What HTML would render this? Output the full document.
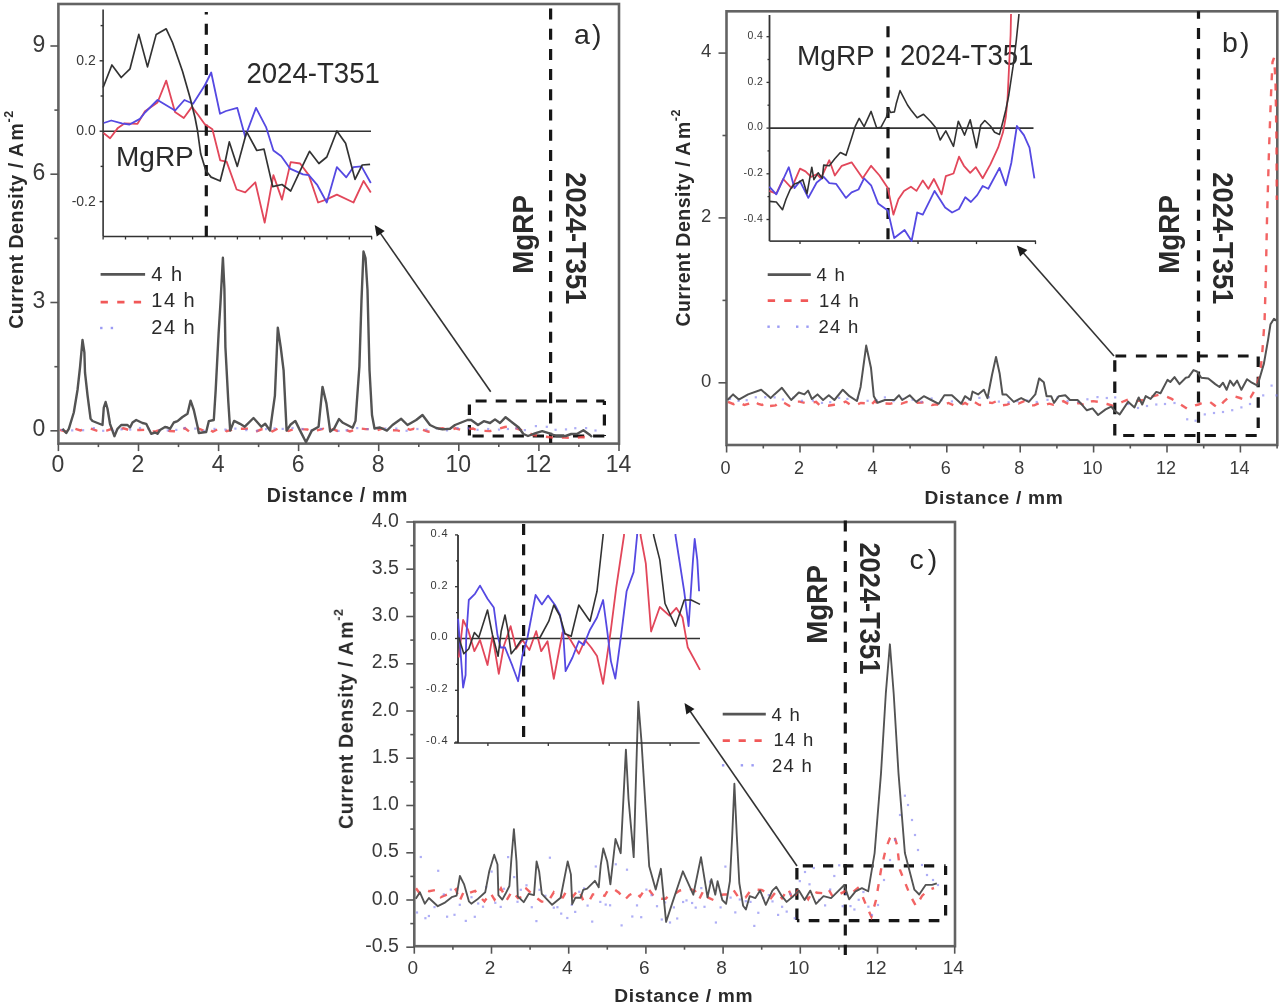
<!DOCTYPE html>
<html><head><meta charset="utf-8"><title>Figure</title>
<style>html,body{margin:0;padding:0;background:#fff;overflow:hidden;}svg{display:block;}</style>
</head><body>
<svg width="1280" height="1004" viewBox="0 0 1280 1004" font-family='"Liberation Sans", sans-serif'>
<rect width="1280" height="1004" fill="#ffffff"/>
<defs><filter id="bl" x="0" y="0" width="1280" height="1004" filterUnits="userSpaceOnUse"><feGaussianBlur stdDeviation="0.7"/></filter></defs>
<g filter="url(#bl)">
<rect x="58.4" y="4.0" width="560.6" height="439.6" fill="none" stroke="#646464" stroke-width="2.6"/>
<line x1="50.4" y1="430.8" x2="58.4" y2="430.8" stroke="#555555" stroke-width="1.6" />
<text x="45.3" y="436.4" font-size="23" text-anchor="end" font-weight="normal" fill="#3a3a3a" >0</text>
<line x1="50.4" y1="302.5" x2="58.4" y2="302.5" stroke="#555555" stroke-width="1.6" />
<text x="45.3" y="308.1" font-size="23" text-anchor="end" font-weight="normal" fill="#3a3a3a" >3</text>
<line x1="50.4" y1="174.2" x2="58.4" y2="174.2" stroke="#555555" stroke-width="1.6" />
<text x="45.3" y="179.8" font-size="23" text-anchor="end" font-weight="normal" fill="#3a3a3a" >6</text>
<line x1="50.4" y1="46.0" x2="58.4" y2="46.0" stroke="#555555" stroke-width="1.6" />
<text x="45.3" y="51.6" font-size="23" text-anchor="end" font-weight="normal" fill="#3a3a3a" >9</text>
<line x1="54.4" y1="366.7" x2="58.4" y2="366.7" stroke="#555555" stroke-width="1.6" />
<line x1="54.4" y1="238.4" x2="58.4" y2="238.4" stroke="#555555" stroke-width="1.6" />
<line x1="54.4" y1="110.1" x2="58.4" y2="110.1" stroke="#555555" stroke-width="1.6" />
<line x1="58.4" y1="443.6" x2="58.4" y2="451.1" stroke="#555555" stroke-width="1.6" />
<text x="57.9" y="472.3" font-size="23" text-anchor="middle" font-weight="normal" fill="#3a3a3a" >0</text>
<line x1="98.4" y1="443.6" x2="98.4" y2="447.1" stroke="#555555" stroke-width="1.6" />
<line x1="138.5" y1="443.6" x2="138.5" y2="451.1" stroke="#555555" stroke-width="1.6" />
<text x="138.0" y="472.3" font-size="23" text-anchor="middle" font-weight="normal" fill="#3a3a3a" >2</text>
<line x1="178.5" y1="443.6" x2="178.5" y2="447.1" stroke="#555555" stroke-width="1.6" />
<line x1="218.6" y1="443.6" x2="218.6" y2="451.1" stroke="#555555" stroke-width="1.6" />
<text x="218.1" y="472.3" font-size="23" text-anchor="middle" font-weight="normal" fill="#3a3a3a" >4</text>
<line x1="258.6" y1="443.6" x2="258.6" y2="447.1" stroke="#555555" stroke-width="1.6" />
<line x1="298.6" y1="443.6" x2="298.6" y2="451.1" stroke="#555555" stroke-width="1.6" />
<text x="298.1" y="472.3" font-size="23" text-anchor="middle" font-weight="normal" fill="#3a3a3a" >6</text>
<line x1="338.7" y1="443.6" x2="338.7" y2="447.1" stroke="#555555" stroke-width="1.6" />
<line x1="378.7" y1="443.6" x2="378.7" y2="451.1" stroke="#555555" stroke-width="1.6" />
<text x="378.2" y="472.3" font-size="23" text-anchor="middle" font-weight="normal" fill="#3a3a3a" >8</text>
<line x1="418.8" y1="443.6" x2="418.8" y2="447.1" stroke="#555555" stroke-width="1.6" />
<line x1="458.8" y1="443.6" x2="458.8" y2="451.1" stroke="#555555" stroke-width="1.6" />
<text x="458.3" y="472.3" font-size="23" text-anchor="middle" font-weight="normal" fill="#3a3a3a" >10</text>
<line x1="498.8" y1="443.6" x2="498.8" y2="447.1" stroke="#555555" stroke-width="1.6" />
<line x1="538.9" y1="443.6" x2="538.9" y2="451.1" stroke="#555555" stroke-width="1.6" />
<text x="538.4" y="472.3" font-size="23" text-anchor="middle" font-weight="normal" fill="#3a3a3a" >12</text>
<line x1="578.9" y1="443.6" x2="578.9" y2="447.1" stroke="#555555" stroke-width="1.6" />
<line x1="619.0" y1="443.6" x2="619.0" y2="451.1" stroke="#555555" stroke-width="1.6" />
<text x="618.5" y="472.3" font-size="23" text-anchor="middle" font-weight="normal" fill="#3a3a3a" >14</text>
<text transform="translate(23.0,328.8) rotate(-90)" font-size="19.5" font-weight="bold" fill="#2a2a2a" text-anchor="start" letter-spacing="0.55">Current Density / A<tspan dx="2">m</tspan><tspan dy="-10" font-size="12.5">-2</tspan></text>
<text x="337.5" y="502.0" font-size="19.5" text-anchor="middle" font-weight="bold" fill="#2a2a2a" letter-spacing="0.7">Distance / mm</text>
<text x="574.0" y="44.0" font-size="28.5" text-anchor="start" font-weight="normal" fill="#2a2a2a" letter-spacing="2.2">a)</text>
<line x1="550.6" y1="8.5" x2="550.6" y2="443.0" stroke="#151515" stroke-width="3.2" stroke-dasharray="11 9.2" stroke-dashoffset="0"/>
<text transform="translate(533.4,273.8) rotate(-90) scale(1,1.050)" font-size="27.8" font-weight="bold" fill="#2a2a2a" text-anchor="start" >MgRP</text>
<text transform="translate(565.6,172.3) rotate(90) scale(1,1.100)" font-size="27.3" font-weight="bold" fill="#2a2a2a" text-anchor="start" >2024-T351</text>
<line x1="469.4" y1="401.0" x2="604.4" y2="401.0" stroke="#151515" stroke-width="3.2" stroke-dasharray="11.00 9.10" stroke-dashoffset="13.90"/>
<line x1="469.4" y1="401.0" x2="469.4" y2="436.0" stroke="#151515" stroke-width="3.2" stroke-dasharray="10.60 10.00" stroke-dashoffset="17.20"/>
<line x1="469.4" y1="436.0" x2="604.4" y2="436.0" stroke="#151515" stroke-width="3.2" stroke-dasharray="11.20 8.90" stroke-dashoffset="17.00"/>
<line x1="604.4" y1="401.0" x2="604.4" y2="436.0" stroke="#151515" stroke-width="3.2" stroke-dasharray="11.20 9.40" stroke-dashoffset="7.20"/>
<line x1="490.7" y1="391.8" x2="379.6" y2="232.1" stroke="#333" stroke-width="1.6" />
<polygon points="374.7,225.1 384.7,230.9 376.7,236.5" fill="#1a1a1a"/>
<line x1="100.6" y1="274.3" x2="145.1" y2="274.3" stroke="#555555" stroke-width="2.8" />
<line x1="100.6" y1="302.1" x2="145" y2="302.1" stroke="#f04848" stroke-width="2.6" stroke-dasharray="7.3 9.3" opacity="0.9"/>
<rect x="100.1" y="326.8" width="2.4" height="2.4" fill="#7070f0" opacity="0.7"/>
<rect x="110.7" y="326.8" width="2.4" height="2.4" fill="#7070f0" opacity="0.7"/>
<text x="151.3" y="281.0" font-size="20" text-anchor="start" font-weight="normal" fill="#2a2a2a" letter-spacing="1.5">4 h</text>
<text x="151.3" y="307.0" font-size="20" text-anchor="start" font-weight="normal" fill="#2a2a2a" letter-spacing="1.5">14 h</text>
<text x="151.3" y="334.0" font-size="20" text-anchor="start" font-weight="normal" fill="#2a2a2a" letter-spacing="1.5">24 h</text>
<polyline points="60.0,429.8 65.2,431.5 70.1,430.0 75.3,428.9 80.4,430.5 86.3,428.5 90.7,428.5 96.6,430.7 100.2,431.7 106.6,430.6 112.0,428.8 115.5,430.1 119.2,428.9 123.4,428.3 128.3,429.8 134.3,430.1 139.7,430.0 145.2,429.8 149.6,431.8 156.1,431.2 161.7,429.3 165.9,429.2 169.6,431.0 174.3,431.2 178.9,431.6 185.0,428.2 189.1,431.5 194.0,431.7 198.7,428.5 204.1,431.0 208.4,428.5 212.9,431.7 218.7,428.6 222.9,428.6 226.6,431.1 230.6,430.2 235.5,428.9 241.2,428.7 246.6,428.6 251.4,429.0 255.7,431.7 261.6,429.3 267.7,429.0 272.4,431.3 277.8,428.6 284.3,429.0 288.6,431.0 293.1,429.3 296.8,428.5 302.0,429.1 307.4,429.5 312.2,431.7 317.2,430.3 323.3,428.9 327.2,431.5 333.2,429.1 337.2,430.9 343.6,428.9 349.9,431.4 355.2,429.7 359.0,428.3 365.4,429.1 371.0,429.1 377.0,430.3 381.4,428.8 387.1,428.4 391.2,430.2 397.3,430.4 401.6,431.5 405.8,428.3 410.1,429.8 413.7,428.8 418.3,430.3 422.2,429.5 428.4,431.7 433.9,430.7 439.1,428.7 442.7,428.3 449.0,430.7 455.4,428.3 460.8,429.9 466.5,429.3 473.0,428.5 478.1,430.9 484.3,430.9 489.9,431.1 496.2,429.5 505.0,427.0 510.0,426.0 515.0,428.0 521.0,430.0 527.0,432.0 533.0,435.0 540.0,436.0 548.0,437.0 556.0,438.0 565.0,437.5 575.0,438.0 583.0,437.0 590.0,439.0" fill="none" stroke="#f04848" stroke-width="2.4" stroke-dasharray="7 9" opacity="0.85"/>
<rect x="60.9" y="428.8" width="2.2" height="2.2" fill="#7878f0" opacity="0.6"/>
<rect x="71.1" y="429.3" width="2.2" height="2.2" fill="#7878f0" opacity="0.6"/>
<rect x="82.0" y="429.1" width="2.2" height="2.2" fill="#7878f0" opacity="0.6"/>
<rect x="92.7" y="427.0" width="2.2" height="2.2" fill="#7878f0" opacity="0.6"/>
<rect x="102.1" y="429.7" width="2.2" height="2.2" fill="#7878f0" opacity="0.6"/>
<rect x="112.1" y="429.6" width="2.2" height="2.2" fill="#7878f0" opacity="0.6"/>
<rect x="120.4" y="428.3" width="2.2" height="2.2" fill="#7878f0" opacity="0.6"/>
<rect x="129.1" y="428.5" width="2.2" height="2.2" fill="#7878f0" opacity="0.6"/>
<rect x="138.9" y="426.9" width="2.2" height="2.2" fill="#7878f0" opacity="0.6"/>
<rect x="147.5" y="427.7" width="2.2" height="2.2" fill="#7878f0" opacity="0.6"/>
<rect x="158.3" y="429.2" width="2.2" height="2.2" fill="#7878f0" opacity="0.6"/>
<rect x="166.7" y="429.3" width="2.2" height="2.2" fill="#7878f0" opacity="0.6"/>
<rect x="175.2" y="428.8" width="2.2" height="2.2" fill="#7878f0" opacity="0.6"/>
<rect x="183.5" y="426.9" width="2.2" height="2.2" fill="#7878f0" opacity="0.6"/>
<rect x="194.2" y="427.5" width="2.2" height="2.2" fill="#7878f0" opacity="0.6"/>
<rect x="202.8" y="429.8" width="2.2" height="2.2" fill="#7878f0" opacity="0.6"/>
<rect x="213.4" y="427.8" width="2.2" height="2.2" fill="#7878f0" opacity="0.6"/>
<rect x="224.3" y="428.5" width="2.2" height="2.2" fill="#7878f0" opacity="0.6"/>
<rect x="234.3" y="427.5" width="2.2" height="2.2" fill="#7878f0" opacity="0.6"/>
<rect x="245.2" y="429.0" width="2.2" height="2.2" fill="#7878f0" opacity="0.6"/>
<rect x="256.1" y="429.6" width="2.2" height="2.2" fill="#7878f0" opacity="0.6"/>
<rect x="265.0" y="428.0" width="2.2" height="2.2" fill="#7878f0" opacity="0.6"/>
<rect x="273.5" y="427.3" width="2.2" height="2.2" fill="#7878f0" opacity="0.6"/>
<rect x="281.6" y="427.8" width="2.2" height="2.2" fill="#7878f0" opacity="0.6"/>
<rect x="291.5" y="426.9" width="2.2" height="2.2" fill="#7878f0" opacity="0.6"/>
<rect x="301.5" y="427.9" width="2.2" height="2.2" fill="#7878f0" opacity="0.6"/>
<rect x="310.4" y="429.4" width="2.2" height="2.2" fill="#7878f0" opacity="0.6"/>
<rect x="319.9" y="427.8" width="2.2" height="2.2" fill="#7878f0" opacity="0.6"/>
<rect x="329.3" y="429.0" width="2.2" height="2.2" fill="#7878f0" opacity="0.6"/>
<rect x="337.5" y="429.8" width="2.2" height="2.2" fill="#7878f0" opacity="0.6"/>
<rect x="345.5" y="429.1" width="2.2" height="2.2" fill="#7878f0" opacity="0.6"/>
<rect x="356.1" y="427.0" width="2.2" height="2.2" fill="#7878f0" opacity="0.6"/>
<rect x="366.4" y="428.0" width="2.2" height="2.2" fill="#7878f0" opacity="0.6"/>
<rect x="376.2" y="426.9" width="2.2" height="2.2" fill="#7878f0" opacity="0.6"/>
<rect x="384.3" y="427.4" width="2.2" height="2.2" fill="#7878f0" opacity="0.6"/>
<rect x="395.2" y="427.5" width="2.2" height="2.2" fill="#7878f0" opacity="0.6"/>
<rect x="405.5" y="429.7" width="2.2" height="2.2" fill="#7878f0" opacity="0.6"/>
<rect x="416.3" y="427.9" width="2.2" height="2.2" fill="#7878f0" opacity="0.6"/>
<rect x="425.3" y="428.5" width="2.2" height="2.2" fill="#7878f0" opacity="0.6"/>
<rect x="435.7" y="427.2" width="2.2" height="2.2" fill="#7878f0" opacity="0.6"/>
<rect x="445.9" y="429.3" width="2.2" height="2.2" fill="#7878f0" opacity="0.6"/>
<rect x="456.5" y="427.0" width="2.2" height="2.2" fill="#7878f0" opacity="0.6"/>
<rect x="467.3" y="427.2" width="2.2" height="2.2" fill="#7878f0" opacity="0.6"/>
<rect x="476.4" y="428.7" width="2.2" height="2.2" fill="#7878f0" opacity="0.6"/>
<rect x="487.1" y="427.9" width="2.2" height="2.2" fill="#7878f0" opacity="0.6"/>
<rect x="497.9" y="428.5" width="2.2" height="2.2" fill="#7878f0" opacity="0.6"/>
<rect x="506.8" y="427.9" width="2.2" height="2.2" fill="#7878f0" opacity="0.6"/>
<rect x="515.3" y="427.1" width="2.2" height="2.2" fill="#7878f0" opacity="0.6"/>
<rect x="523.8" y="429.0" width="2.2" height="2.2" fill="#7878f0" opacity="0.6"/>
<rect x="534.8" y="425.0" width="2.2" height="2.2" fill="#7878f0" opacity="0.6"/>
<rect x="545.7" y="425.7" width="2.2" height="2.2" fill="#7878f0" opacity="0.6"/>
<rect x="554.5" y="428.7" width="2.2" height="2.2" fill="#7878f0" opacity="0.6"/>
<rect x="564.9" y="428.3" width="2.2" height="2.2" fill="#7878f0" opacity="0.6"/>
<rect x="574.2" y="427.1" width="2.2" height="2.2" fill="#7878f0" opacity="0.6"/>
<rect x="585.0" y="427.0" width="2.2" height="2.2" fill="#7878f0" opacity="0.6"/>
<rect x="594.4" y="429.4" width="2.2" height="2.2" fill="#7878f0" opacity="0.6"/>
<polyline points="62.5,428.8 66.2,433.0 68.8,428.8 73.8,412.5 77.5,390.0 80.0,367.5 82.5,340.0 84.4,352.5 85.0,372.5 87.5,395.0 90.6,418.8 92.5,421.0 97.5,423.0 102.5,425.0 103.8,407.5 105.6,402.0 107.5,408.8 110.0,423.8 114.4,436.2 117.5,428.8 121.2,425.0 127.5,425.0 130.0,427.5 132.5,422.5 136.2,420.0 142.5,423.0 146.2,423.8 151.2,433.8 155.0,432.5 157.5,433.8 160.0,430.0 165.0,427.0 167.5,427.5 170.0,428.8 173.8,422.5 177.5,421.2 182.5,417.0 187.5,413.8 190.6,400.6 193.8,410.0 197.5,426.2 198.8,433.0 206.2,432.0 208.8,421.2 213.8,420.0 215.7,389.8 218.6,333.5 220.5,302.4 222.9,257.8 224.4,288.8 225.4,347.0 228.3,401.5 230.2,430.6 234.1,420.9 240.0,423.8 244.8,426.7 253.5,418.0 261.3,426.7 265.2,423.8 270.0,430.6 274.9,395.6 277.8,327.7 280.7,347.0 283.6,370.4 286.6,430.6 290.4,424.8 295.3,420.9 300.1,430.6 306.0,442.2 311.8,430.6 318.6,426.7 322.5,386.9 326.4,403.4 330.2,431.6 334.1,428.6 339.0,419.0 342.9,422.8 348.7,425.7 352.6,427.7 355.5,420.9 359.4,366.5 361.5,300.0 363.5,251.5 365.5,258.0 367.5,290.0 369.5,370.0 372.0,415.0 374.5,428.5 380.0,427.5 386.9,430.6 392.5,425.0 401.2,418.8 407.5,425.0 416.2,420.0 422.5,415.0 430.0,425.0 436.2,428.0 442.5,429.4 450.0,428.8 455.0,425.0 460.0,423.0 467.5,420.0 471.2,420.0 478.0,425.0 483.8,421.2 490.0,423.0 495.0,419.4 500.0,423.0 505.6,417.2 518.7,427.5 523.4,434.0 528.0,436.0 535.6,433.1 542.2,431.2 548.7,433.1 556.2,436.0 565.6,436.0 571.2,434.0 576.8,434.0 583.4,430.3 590.0,435.0 592.0,437.0" fill="none" stroke="#525252" stroke-width="2.4" stroke-linejoin="round" />
<line x1="103.1" y1="9.4" x2="103.1" y2="236.5" stroke="#333" stroke-width="1.6" />
<line x1="103.1" y1="236.5" x2="372.0" y2="236.5" stroke="#333" stroke-width="1.6" />
<line x1="103.1" y1="131.2" x2="371.0" y2="131.2" stroke="#333" stroke-width="1.5" />
<line x1="100.6" y1="25.6" x2="103.1" y2="25.6" stroke="#333" stroke-width="1.4" />
<line x1="99.6" y1="60.8" x2="103.1" y2="60.8" stroke="#333" stroke-width="1.4" />
<line x1="100.6" y1="96.0" x2="103.1" y2="96.0" stroke="#333" stroke-width="1.4" />
<line x1="99.6" y1="131.2" x2="103.1" y2="131.2" stroke="#333" stroke-width="1.4" />
<line x1="100.6" y1="166.4" x2="103.1" y2="166.4" stroke="#333" stroke-width="1.4" />
<line x1="99.6" y1="201.6" x2="103.1" y2="201.6" stroke="#333" stroke-width="1.4" />
<text x="95.8" y="64.7" font-size="14" text-anchor="end" font-weight="normal" fill="#383838" >0.2</text>
<text x="95.8" y="135.1" font-size="14" text-anchor="end" font-weight="normal" fill="#383838" >0.0</text>
<text x="95.8" y="205.5" font-size="14" text-anchor="end" font-weight="normal" fill="#383838" >-0.2</text>
<line x1="103.1" y1="236.5" x2="103.1" y2="239.5" stroke="#333" stroke-width="1.3" />
<line x1="125.5" y1="236.5" x2="125.5" y2="239.5" stroke="#333" stroke-width="1.3" />
<line x1="147.9" y1="236.5" x2="147.9" y2="239.5" stroke="#333" stroke-width="1.3" />
<line x1="170.2" y1="236.5" x2="170.2" y2="239.5" stroke="#333" stroke-width="1.3" />
<line x1="192.6" y1="236.5" x2="192.6" y2="239.5" stroke="#333" stroke-width="1.3" />
<line x1="215.0" y1="236.5" x2="215.0" y2="239.5" stroke="#333" stroke-width="1.3" />
<line x1="237.4" y1="236.5" x2="237.4" y2="239.5" stroke="#333" stroke-width="1.3" />
<line x1="259.8" y1="236.5" x2="259.8" y2="239.5" stroke="#333" stroke-width="1.3" />
<line x1="282.1" y1="236.5" x2="282.1" y2="239.5" stroke="#333" stroke-width="1.3" />
<line x1="304.5" y1="236.5" x2="304.5" y2="239.5" stroke="#333" stroke-width="1.3" />
<line x1="326.9" y1="236.5" x2="326.9" y2="239.5" stroke="#333" stroke-width="1.3" />
<line x1="349.3" y1="236.5" x2="349.3" y2="239.5" stroke="#333" stroke-width="1.3" />
<line x1="371.7" y1="236.5" x2="371.7" y2="239.5" stroke="#333" stroke-width="1.3" />
<line x1="206.3" y1="12.0" x2="206.3" y2="236.5" stroke="#151515" stroke-width="3.2" stroke-dasharray="11 9.2" stroke-dashoffset="8.5"/>
<text transform="translate(246.4,82.6) rotate(0) scale(1,1.100)" font-size="27.6" font-weight="normal" fill="#2a2a2a" text-anchor="start" >2024-T351</text>
<text x="116.0" y="166.2" font-size="28" text-anchor="start" font-weight="normal" fill="#2a2a2a" >MgRP</text>
<polyline points="103.5,133.0 110.1,138.3 117.9,127.9 124.4,123.4 137.5,123.8 145.0,111.2 157.5,102.5 166.2,80.6 175.0,111.9 183.8,118.0 191.9,106.9 198.2,115.0 204.6,124.0 212.4,129.2 220.2,160.3 226.6,161.6 236.6,189.5 245.2,192.4 255.3,182.3 264.7,222.7 273.4,175.1 282.0,199.6 290.7,162.1 300.1,163.5 308.8,175.1 318.1,202.5 326.1,199.6 336.9,194.6 353.5,202.5 363.6,180.9 370.8,192.4" fill="none" stroke="#e2465a" stroke-width="1.8" stroke-linejoin="round" />
<polyline points="103.7,123.0 111.3,120.5 121.8,123.4 129.5,124.5 139.9,118.9 145.0,112.5 157.5,100.0 175.0,110.6 184.4,100.0 193.1,103.8 205.0,85.0 211.2,72.5 220.0,113.8 226.0,111.0 237.3,107.9 245.2,136.8 256.0,107.9 266.2,127.4 273.4,150.5 281.3,156.3 290.0,168.6 303.0,174.4 308.8,175.1 317.4,185.2 326.8,202.5 336.9,167.1 346.3,177.3 353.5,167.1 361.5,166.4 370.8,183.0" fill="none" stroke="#5448e2" stroke-width="1.8" stroke-linejoin="round" />
<polyline points="103.1,87.5 111.9,65.0 121.2,77.5 130.0,68.8 138.8,34.4 147.5,66.9 156.2,34.4 166.2,28.8 172.5,42.5 182.5,71.2 190.0,97.5 195.0,117.5 197.5,130.5 200.7,153.8 205.9,170.7 211.1,177.1 220.2,181.0 225.3,161.0 229.3,141.9 237.3,166.4 246.7,131.8 256.8,150.5 264.0,149.1 272.7,186.6 282.0,184.5 290.7,191.0 300.1,170.8 309.5,151.3 318.9,163.5 326.8,157.0 336.9,131.0 345.6,143.3 355.0,179.4 362.2,165.0 370.1,164.3" fill="none" stroke="#333" stroke-width="1.7" stroke-linejoin="round" />
<rect x="726.5" y="11.3" width="550.8" height="433.7" fill="none" stroke="#646464" stroke-width="2.6"/>
<line x1="718.5" y1="382.8" x2="726.5" y2="382.8" stroke="#555555" stroke-width="1.6" />
<text x="711.2" y="387.1" font-size="18.5" text-anchor="end" font-weight="normal" fill="#3a3a3a" >0</text>
<line x1="718.5" y1="217.9" x2="726.5" y2="217.9" stroke="#555555" stroke-width="1.6" />
<text x="711.2" y="222.2" font-size="18.5" text-anchor="end" font-weight="normal" fill="#3a3a3a" >2</text>
<line x1="718.5" y1="53.1" x2="726.5" y2="53.1" stroke="#555555" stroke-width="1.6" />
<text x="711.2" y="57.4" font-size="18.5" text-anchor="end" font-weight="normal" fill="#3a3a3a" >4</text>
<line x1="722.5" y1="300.4" x2="726.5" y2="300.4" stroke="#555555" stroke-width="1.6" />
<line x1="722.5" y1="135.5" x2="726.5" y2="135.5" stroke="#555555" stroke-width="1.6" />
<line x1="726.6" y1="445.0" x2="726.6" y2="452.5" stroke="#555555" stroke-width="1.6" />
<text x="725.6" y="474.0" font-size="18" text-anchor="middle" font-weight="normal" fill="#3a3a3a" >0</text>
<line x1="763.3" y1="445.0" x2="763.3" y2="448.5" stroke="#555555" stroke-width="1.6" />
<line x1="800.0" y1="445.0" x2="800.0" y2="452.5" stroke="#555555" stroke-width="1.6" />
<text x="799.0" y="474.0" font-size="18" text-anchor="middle" font-weight="normal" fill="#3a3a3a" >2</text>
<line x1="836.7" y1="445.0" x2="836.7" y2="448.5" stroke="#555555" stroke-width="1.6" />
<line x1="873.4" y1="445.0" x2="873.4" y2="452.5" stroke="#555555" stroke-width="1.6" />
<text x="872.4" y="474.0" font-size="18" text-anchor="middle" font-weight="normal" fill="#3a3a3a" >4</text>
<line x1="910.1" y1="445.0" x2="910.1" y2="448.5" stroke="#555555" stroke-width="1.6" />
<line x1="946.8" y1="445.0" x2="946.8" y2="452.5" stroke="#555555" stroke-width="1.6" />
<text x="945.8" y="474.0" font-size="18" text-anchor="middle" font-weight="normal" fill="#3a3a3a" >6</text>
<line x1="983.5" y1="445.0" x2="983.5" y2="448.5" stroke="#555555" stroke-width="1.6" />
<line x1="1020.2" y1="445.0" x2="1020.2" y2="452.5" stroke="#555555" stroke-width="1.6" />
<text x="1019.2" y="474.0" font-size="18" text-anchor="middle" font-weight="normal" fill="#3a3a3a" >8</text>
<line x1="1056.9" y1="445.0" x2="1056.9" y2="448.5" stroke="#555555" stroke-width="1.6" />
<line x1="1093.6" y1="445.0" x2="1093.6" y2="452.5" stroke="#555555" stroke-width="1.6" />
<text x="1092.6" y="474.0" font-size="18" text-anchor="middle" font-weight="normal" fill="#3a3a3a" >10</text>
<line x1="1130.3" y1="445.0" x2="1130.3" y2="448.5" stroke="#555555" stroke-width="1.6" />
<line x1="1167.0" y1="445.0" x2="1167.0" y2="452.5" stroke="#555555" stroke-width="1.6" />
<text x="1166.0" y="474.0" font-size="18" text-anchor="middle" font-weight="normal" fill="#3a3a3a" >12</text>
<line x1="1203.7" y1="445.0" x2="1203.7" y2="448.5" stroke="#555555" stroke-width="1.6" />
<line x1="1240.4" y1="445.0" x2="1240.4" y2="452.5" stroke="#555555" stroke-width="1.6" />
<text x="1239.4" y="474.0" font-size="18" text-anchor="middle" font-weight="normal" fill="#3a3a3a" >14</text>
<line x1="1277.1" y1="445.0" x2="1277.1" y2="448.5" stroke="#555555" stroke-width="1.6" />
<text transform="translate(690.3,326.5) rotate(-90)" font-size="19.5" font-weight="bold" fill="#2a2a2a" text-anchor="start" letter-spacing="0.5">Current Density / A<tspan dx="2">m</tspan><tspan dy="-10" font-size="12.5">-2</tspan></text>
<text x="994.0" y="504.0" font-size="19.2" text-anchor="middle" font-weight="bold" fill="#2a2a2a" letter-spacing="0.7">Distance / mm</text>
<text x="1222.0" y="51.5" font-size="28.5" text-anchor="start" font-weight="normal" fill="#2a2a2a" letter-spacing="2.2">b)</text>
<line x1="1198.5" y1="11.3" x2="1198.5" y2="445.0" stroke="#151515" stroke-width="3.2" stroke-dasharray="11 9.2" stroke-dashoffset="3.5"/>
<text transform="translate(1179.2,273.8) rotate(-90) scale(1,1.050)" font-size="27.8" font-weight="bold" fill="#2a2a2a" text-anchor="start" >MgRP</text>
<text transform="translate(1212.9,172.3) rotate(90) scale(1,1.100)" font-size="27.3" font-weight="bold" fill="#2a2a2a" text-anchor="start" >2024-T351</text>
<line x1="1114.8" y1="356.0" x2="1258.2" y2="356.0" stroke="#151515" stroke-width="3.2" stroke-dasharray="10.70 9.70" stroke-dashoffset="19.70"/>
<line x1="1114.8" y1="356.0" x2="1114.8" y2="435.5" stroke="#151515" stroke-width="3.2" stroke-dasharray="11.50 9.80" stroke-dashoffset="17.10"/>
<line x1="1114.8" y1="435.5" x2="1258.2" y2="435.5" stroke="#151515" stroke-width="3.2" stroke-dasharray="11.10 9.30" stroke-dashoffset="12.00"/>
<line x1="1258.2" y1="356.0" x2="1258.2" y2="435.5" stroke="#151515" stroke-width="3.2" stroke-dasharray="10.50 9.90" stroke-dashoffset="20.00"/>
<line x1="1114.0" y1="356.0" x2="1022.4" y2="251.8" stroke="#333" stroke-width="1.6" />
<polygon points="1016.8,245.4 1027.4,250.1 1020.1,256.5" fill="#1a1a1a"/>
<line x1="767.7" y1="274.7" x2="810.8" y2="274.7" stroke="#555555" stroke-width="2.8" />
<line x1="767.7" y1="300.6" x2="810" y2="300.6" stroke="#f04848" stroke-width="2.6" stroke-dasharray="7.4 9.1" opacity="0.9"/>
<rect x="767.4" y="325.5" width="2.4" height="2.4" fill="#7070f0" opacity="0.7"/>
<rect x="777.2" y="325.5" width="2.4" height="2.4" fill="#7070f0" opacity="0.7"/>
<rect x="796.0" y="325.5" width="2.4" height="2.4" fill="#7070f0" opacity="0.7"/>
<rect x="806.3" y="325.5" width="2.4" height="2.4" fill="#7070f0" opacity="0.7"/>
<text x="816.5" y="281.0" font-size="18.5" text-anchor="start" font-weight="normal" fill="#2a2a2a" letter-spacing="1.3">4 h</text>
<text x="819.0" y="306.7" font-size="18.5" text-anchor="start" font-weight="normal" fill="#2a2a2a" letter-spacing="1.3">14 h</text>
<text x="818.5" y="333.0" font-size="18.5" text-anchor="start" font-weight="normal" fill="#2a2a2a" letter-spacing="1.3">24 h</text>
<polyline points="728.0,401.8 733.6,404.2 738.5,402.1 744.4,405.0 749.4,403.5 753.6,401.0 758.2,403.9 762.0,405.0 766.1,402.2 769.8,406.0 775.5,405.4 780.8,401.2 785.3,403.5 789.2,405.8 793.8,401.8 799.7,401.6 806.0,403.3 811.2,402.7 816.1,401.9 819.7,405.3 823.9,404.9 828.1,405.8 834.2,404.8 840.0,403.9 845.7,401.6 850.7,405.1 854.8,405.6 860.9,403.0 865.5,403.3 870.2,406.0 874.8,401.1 878.6,404.6 885.1,403.5 890.1,403.8 895.8,402.1 901.1,403.8 906.5,401.9 910.5,402.7 916.8,402.7 922.1,402.5 925.9,401.3 931.8,404.9 936.5,404.4 942.0,405.5 948.4,403.0 954.8,405.8 960.1,405.4 965.1,402.9 969.3,405.4 973.3,401.3 979.2,404.9 984.2,405.2 987.8,402.3 992.2,403.1 996.2,401.3 1000.7,405.5 1007.2,404.7 1012.1,402.3 1018.5,403.6 1024.2,401.1 1028.3,405.2 1034.2,405.4 1039.5,403.1 1044.7,405.2 1049.2,403.7 1053.5,404.8 1057.0,404.4 1063.4,401.1 1068.7,404.2 1074.7,403.9 1079.0,403.0 1085.4,405.5 1089.3,401.5 1093.1,401.1 1097.9,401.7 1107.0,404.0 1114.0,406.0 1122.0,402.0 1129.5,399.0 1136.0,401.0 1142.2,400.3 1150.0,397.0 1159.0,394.7 1165.0,396.0 1171.7,398.9 1180.0,404.0 1187.2,408.8 1193.0,406.0 1198.5,404.5 1204.0,402.0 1209.7,401.7 1214.0,405.0 1218.1,408.1 1223.8,401.7 1228.0,398.0 1233.6,396.1 1240.0,398.0 1246.3,400.3 1250.5,397.5 1256.0,388.0 1260.3,372.2 1262.0,356.0 1263.2,340.0 1264.6,320.0 1265.7,282.4 1267.0,220.0 1269.0,150.0 1271.0,95.0 1272.5,62.0 1274.0,58.0 1275.5,80.0 1276.5,140.0 1276.8,200.0" fill="none" stroke="#f04848" stroke-width="2.4" stroke-dasharray="7 9" opacity="0.85"/>
<rect x="728.9" y="397.8" width="2.2" height="2.2" fill="#7878f0" opacity="0.6"/>
<rect x="737.4" y="399.8" width="2.2" height="2.2" fill="#7878f0" opacity="0.6"/>
<rect x="745.6" y="399.1" width="2.2" height="2.2" fill="#7878f0" opacity="0.6"/>
<rect x="754.7" y="396.2" width="2.2" height="2.2" fill="#7878f0" opacity="0.6"/>
<rect x="764.2" y="396.1" width="2.2" height="2.2" fill="#7878f0" opacity="0.6"/>
<rect x="773.5" y="396.3" width="2.2" height="2.2" fill="#7878f0" opacity="0.6"/>
<rect x="781.8" y="398.4" width="2.2" height="2.2" fill="#7878f0" opacity="0.6"/>
<rect x="792.2" y="396.6" width="2.2" height="2.2" fill="#7878f0" opacity="0.6"/>
<rect x="800.9" y="399.7" width="2.2" height="2.2" fill="#7878f0" opacity="0.6"/>
<rect x="811.8" y="399.4" width="2.2" height="2.2" fill="#7878f0" opacity="0.6"/>
<rect x="820.9" y="401.8" width="2.2" height="2.2" fill="#7878f0" opacity="0.6"/>
<rect x="829.1" y="401.1" width="2.2" height="2.2" fill="#7878f0" opacity="0.6"/>
<rect x="838.0" y="396.8" width="2.2" height="2.2" fill="#7878f0" opacity="0.6"/>
<rect x="846.3" y="397.8" width="2.2" height="2.2" fill="#7878f0" opacity="0.6"/>
<rect x="856.8" y="397.0" width="2.2" height="2.2" fill="#7878f0" opacity="0.6"/>
<rect x="866.5" y="399.7" width="2.2" height="2.2" fill="#7878f0" opacity="0.6"/>
<rect x="875.6" y="399.2" width="2.2" height="2.2" fill="#7878f0" opacity="0.6"/>
<rect x="883.8" y="396.3" width="2.2" height="2.2" fill="#7878f0" opacity="0.6"/>
<rect x="892.4" y="400.0" width="2.2" height="2.2" fill="#7878f0" opacity="0.6"/>
<rect x="901.7" y="397.8" width="2.2" height="2.2" fill="#7878f0" opacity="0.6"/>
<rect x="911.5" y="398.6" width="2.2" height="2.2" fill="#7878f0" opacity="0.6"/>
<rect x="920.4" y="400.7" width="2.2" height="2.2" fill="#7878f0" opacity="0.6"/>
<rect x="930.5" y="397.4" width="2.2" height="2.2" fill="#7878f0" opacity="0.6"/>
<rect x="940.2" y="399.1" width="2.2" height="2.2" fill="#7878f0" opacity="0.6"/>
<rect x="950.8" y="400.3" width="2.2" height="2.2" fill="#7878f0" opacity="0.6"/>
<rect x="959.7" y="401.8" width="2.2" height="2.2" fill="#7878f0" opacity="0.6"/>
<rect x="968.0" y="398.4" width="2.2" height="2.2" fill="#7878f0" opacity="0.6"/>
<rect x="978.3" y="396.8" width="2.2" height="2.2" fill="#7878f0" opacity="0.6"/>
<rect x="987.8" y="396.1" width="2.2" height="2.2" fill="#7878f0" opacity="0.6"/>
<rect x="997.8" y="400.5" width="2.2" height="2.2" fill="#7878f0" opacity="0.6"/>
<rect x="1007.5" y="401.2" width="2.2" height="2.2" fill="#7878f0" opacity="0.6"/>
<rect x="1016.4" y="400.1" width="2.2" height="2.2" fill="#7878f0" opacity="0.6"/>
<rect x="1026.2" y="399.4" width="2.2" height="2.2" fill="#7878f0" opacity="0.6"/>
<rect x="1035.6" y="400.9" width="2.2" height="2.2" fill="#7878f0" opacity="0.6"/>
<rect x="1046.4" y="398.7" width="2.2" height="2.2" fill="#7878f0" opacity="0.6"/>
<rect x="1056.4" y="396.3" width="2.2" height="2.2" fill="#7878f0" opacity="0.6"/>
<rect x="1066.5" y="399.8" width="2.2" height="2.2" fill="#7878f0" opacity="0.6"/>
<rect x="1077.5" y="400.8" width="2.2" height="2.2" fill="#7878f0" opacity="0.6"/>
<rect x="1086.3" y="398.2" width="2.2" height="2.2" fill="#7878f0" opacity="0.6"/>
<rect x="1096.4" y="396.0" width="2.2" height="2.2" fill="#7878f0" opacity="0.6"/>
<rect x="1105.7" y="396.9" width="2.2" height="2.2" fill="#7878f0" opacity="0.6"/>
<rect x="1114.1" y="396.3" width="2.2" height="2.2" fill="#7878f0" opacity="0.6"/>
<rect x="1126.9" y="402.9" width="2.2" height="2.2" fill="#7878f0" opacity="0.6"/>
<rect x="1136.9" y="406.9" width="2.2" height="2.2" fill="#7878f0" opacity="0.6"/>
<rect x="1145.9" y="404.9" width="2.2" height="2.2" fill="#7878f0" opacity="0.6"/>
<rect x="1155.2" y="403.4" width="2.2" height="2.2" fill="#7878f0" opacity="0.6"/>
<rect x="1163.9" y="402.9" width="2.2" height="2.2" fill="#7878f0" opacity="0.6"/>
<rect x="1173.4" y="401.9" width="2.2" height="2.2" fill="#7878f0" opacity="0.6"/>
<rect x="1186.1" y="418.2" width="2.2" height="2.2" fill="#7878f0" opacity="0.6"/>
<rect x="1194.5" y="419.6" width="2.2" height="2.2" fill="#7878f0" opacity="0.6"/>
<rect x="1203.7" y="413.3" width="2.2" height="2.2" fill="#7878f0" opacity="0.6"/>
<rect x="1212.9" y="411.9" width="2.2" height="2.2" fill="#7878f0" opacity="0.6"/>
<rect x="1221.9" y="410.9" width="2.2" height="2.2" fill="#7878f0" opacity="0.6"/>
<rect x="1231.1" y="409.1" width="2.2" height="2.2" fill="#7878f0" opacity="0.6"/>
<rect x="1240.3" y="406.3" width="2.2" height="2.2" fill="#7878f0" opacity="0.6"/>
<rect x="1248.9" y="402.9" width="2.2" height="2.2" fill="#7878f0" opacity="0.6"/>
<rect x="1262.1" y="394.3" width="2.2" height="2.2" fill="#7878f0" opacity="0.6"/>
<rect x="1270.5" y="384.5" width="2.2" height="2.2" fill="#7878f0" opacity="0.6"/>
<rect x="1275.4" y="394.3" width="2.2" height="2.2" fill="#7878f0" opacity="0.6"/>
<polyline points="727.5,400.0 733.1,394.4 738.8,399.6 748.1,394.4 761.2,389.7 770.6,398.1 774.4,394.4 781.9,387.8 791.2,400.0 798.8,392.5 804.4,394.4 808.1,390.6 811.9,399.0 817.5,394.4 823.1,400.0 828.8,395.3 834.4,400.0 842.8,389.7 849.4,396.2 856.9,401.0 860.6,386.9 866.2,345.6 871.0,368.0 873.8,396.2 877.5,402.8 885.0,400.0 894.4,400.0 899.0,395.3 902.2,400.0 909.7,395.3 916.2,401.9 923.8,396.2 931.2,400.0 938.8,403.8 944.4,395.3 951.9,395.3 961.2,403.8 965.0,396.2 970.6,400.0 972.5,391.6 978.1,394.4 983.8,389.7 987.5,398.1 992.0,375.0 996.0,356.9 999.7,373.8 1002.5,394.4 1006.2,394.4 1013.8,401.9 1021.2,398.1 1028.8,401.9 1035.3,394.4 1039.1,378.4 1043.8,382.2 1046.6,396.2 1051.2,396.2 1054.0,402.8 1058.8,396.2 1065.3,395.3 1070.0,400.0 1077.5,400.0 1081.2,403.8 1086.9,410.3 1092.5,408.4 1098.1,415.0 1105.6,409.4 1111.2,406.6 1115.0,411.2 1119.7,414.4 1128.1,401.7 1134.5,407.4 1138.7,397.5 1142.2,404.5 1145.7,396.1 1150.6,398.9 1156.3,391.9 1160.5,393.3 1167.5,379.9 1170.3,382.0 1174.5,377.1 1179.5,384.1 1185.8,377.8 1188.6,377.1 1193.5,370.1 1197.0,371.5 1201.3,377.8 1208.3,378.5 1215.3,384.1 1219.5,387.0 1223.0,382.7 1226.6,389.8 1230.1,380.6 1233.6,385.6 1237.1,380.6 1241.4,389.8 1247.0,379.2 1251.9,382.7 1257.5,385.6 1259.7,378.0 1263.9,363.6 1268.1,339.7 1270.5,324.2 1274.0,318.8 1276.4,320.6" fill="none" stroke="#525252" stroke-width="2.0" stroke-linejoin="round" />
<line x1="769.5" y1="15.0" x2="769.5" y2="241.1" stroke="#333" stroke-width="1.8" />
<line x1="769.5" y1="241.1" x2="1036.0" y2="241.1" stroke="#444" stroke-width="1.8" />
<line x1="769.5" y1="128.1" x2="1033.5" y2="128.1" stroke="#333" stroke-width="1.7" />
<line x1="766.5" y1="219.5" x2="769.5" y2="219.5" stroke="#333" stroke-width="1.3" />
<line x1="767.5" y1="196.6" x2="769.5" y2="196.6" stroke="#333" stroke-width="1.3" />
<line x1="766.5" y1="173.8" x2="769.5" y2="173.8" stroke="#333" stroke-width="1.3" />
<line x1="767.5" y1="150.9" x2="769.5" y2="150.9" stroke="#333" stroke-width="1.3" />
<line x1="766.5" y1="128.1" x2="769.5" y2="128.1" stroke="#333" stroke-width="1.3" />
<line x1="767.5" y1="105.2" x2="769.5" y2="105.2" stroke="#333" stroke-width="1.3" />
<line x1="766.5" y1="82.4" x2="769.5" y2="82.4" stroke="#333" stroke-width="1.3" />
<line x1="767.5" y1="59.5" x2="769.5" y2="59.5" stroke="#333" stroke-width="1.3" />
<line x1="766.5" y1="36.7" x2="769.5" y2="36.7" stroke="#333" stroke-width="1.3" />
<text x="763.2" y="38.9" font-size="10.5" text-anchor="end" font-weight="normal" fill="#383838" letter-spacing="0.4">0.4</text>
<text x="763.2" y="84.6" font-size="10.5" text-anchor="end" font-weight="normal" fill="#383838" letter-spacing="0.4">0.2</text>
<text x="763.2" y="130.3" font-size="10.5" text-anchor="end" font-weight="normal" fill="#383838" letter-spacing="0.4">0.0</text>
<text x="763.2" y="176.0" font-size="10.5" text-anchor="end" font-weight="normal" fill="#383838" letter-spacing="0.4">-0.2</text>
<text x="763.2" y="221.7" font-size="10.5" text-anchor="end" font-weight="normal" fill="#383838" letter-spacing="0.4">-0.4</text>
<line x1="800.0" y1="241.1" x2="800.0" y2="244.1" stroke="#333" stroke-width="1.3" />
<line x1="859.2" y1="241.1" x2="859.2" y2="244.1" stroke="#333" stroke-width="1.3" />
<line x1="918.0" y1="241.1" x2="918.0" y2="244.1" stroke="#333" stroke-width="1.3" />
<line x1="976.5" y1="241.1" x2="976.5" y2="244.1" stroke="#333" stroke-width="1.3" />
<line x1="1035.5" y1="241.1" x2="1035.5" y2="244.1" stroke="#333" stroke-width="1.3" />
<line x1="888.0" y1="26.2" x2="888.0" y2="241.0" stroke="#151515" stroke-width="3.2" stroke-dasharray="11 9.2" stroke-dashoffset="0"/>
<text x="797.0" y="65.0" font-size="28" text-anchor="start" font-weight="normal" fill="#2a2a2a" >MgRP</text>
<text transform="translate(900.0,65.0) rotate(0) scale(1,1.100)" font-size="27.6" font-weight="normal" fill="#2a2a2a" text-anchor="start" >2024-T351</text>
<clipPath id="cb"><rect x="769" y="14" width="270" height="228"/></clipPath>
<g clip-path="url(#cb)">
<polyline points="769.3,190.9 776.3,193.7 783.2,179.0 791.6,188.1 800.0,168.6 805.5,171.4 811.1,176.9 816.7,174.2 820.9,178.3 829.3,160.2 834.8,175.5 841.8,165.8 851.6,162.3 862.7,178.3 871.1,165.8 879.5,175.5 887.8,188.1 893.4,214.6 898.4,199.3 904.0,190.9 910.9,186.7 916.5,190.9 922.8,180.4 928.4,188.8 933.9,179.0 941.6,194.4 945.8,176.2 953.5,173.5 959.0,156.7 963.9,165.8 970.2,172.8 975.8,167.2 982.7,178.3 990.4,164.4 998.1,147.7 1003.0,132.3 1005.8,117.0 1007.5,100.0 1008.8,72.5 1010.6,35.0 1011.2,5.0" fill="none" stroke="#e2465a" stroke-width="1.8" stroke-linejoin="round" />
<polyline points="769.3,186.7 776.3,194.4 788.8,167.2 794.4,188.1 800.0,181.1 808.3,197.9 816.7,182.5 823.7,176.9 829.3,183.2 836.2,183.9 846.0,197.9 851.6,192.3 858.5,189.5 864.1,178.3 871.1,185.3 878.1,203.4 887.8,210.4 894.2,238.0 904.6,230.0 911.6,241.0 917.2,212.5 922.8,214.6 934.6,190.9 945.1,207.6 952.1,212.5 959.0,209.0 965.3,197.2 970.9,202.0 977.2,195.1 982.7,186.0 988.3,188.8 999.5,167.9 1005.8,185.3 1011.3,163.0 1016.9,126.0 1023.9,135.1 1029.5,147.7 1034.4,178.3" fill="none" stroke="#5448e2" stroke-width="1.8" stroke-linejoin="round" />
<polyline points="769.3,201.4 776.3,202.0 782.5,209.7 786.0,199.3 790.2,189.5 794.4,183.9 798.6,182.5 802.8,179.7 807.0,193.7 811.8,167.2 813.9,179.7 818.1,172.8 822.3,178.3 823.7,165.1 829.3,165.8 834.8,158.8 840.4,152.5 846.0,155.3 851.6,137.9 855.1,126.7 859.2,118.4 864.1,126.7 871.1,111.4 876.7,128.1 880.9,127.4 886.4,117.0 888.8,108.8 890.6,112.5 894.4,111.9 896.2,103.8 900.0,90.6 907.5,105.0 911.0,110.0 917.2,117.7 923.5,114.2 930.4,121.2 936.0,128.1 940.2,140.0 945.8,130.9 953.5,146.3 958.3,121.2 964.6,135.1 970.2,119.8 976.5,147.7 980.7,125.3 984.8,120.5 990.4,126.0 994.6,132.3 999.5,134.4 1003.0,121.2 1005.8,110.0 1008.8,95.0 1013.1,66.2 1016.2,41.2 1018.8,16.2 1019.5,5.0" fill="none" stroke="#333" stroke-width="1.6" stroke-linejoin="round" />
</g>
<rect x="414.3" y="522.0" width="540.7" height="424.2" fill="none" stroke="#646464" stroke-width="2.6"/>
<line x1="406.3" y1="947.2" x2="414.3" y2="947.2" stroke="#555555" stroke-width="1.6" />
<text x="398.8" y="951.9" font-size="19.5" text-anchor="end" font-weight="normal" fill="#3a3a3a" >-0.5</text>
<line x1="410.3" y1="923.6" x2="414.3" y2="923.6" stroke="#555555" stroke-width="1.6" />
<line x1="406.3" y1="900.0" x2="414.3" y2="900.0" stroke="#555555" stroke-width="1.6" />
<text x="398.8" y="904.6" font-size="19.5" text-anchor="end" font-weight="normal" fill="#3a3a3a" >0.0</text>
<line x1="410.3" y1="876.4" x2="414.3" y2="876.4" stroke="#555555" stroke-width="1.6" />
<line x1="406.3" y1="852.8" x2="414.3" y2="852.8" stroke="#555555" stroke-width="1.6" />
<text x="398.8" y="857.4" font-size="19.5" text-anchor="end" font-weight="normal" fill="#3a3a3a" >0.5</text>
<line x1="410.3" y1="829.1" x2="414.3" y2="829.1" stroke="#555555" stroke-width="1.6" />
<line x1="406.3" y1="805.5" x2="414.3" y2="805.5" stroke="#555555" stroke-width="1.6" />
<text x="398.8" y="810.1" font-size="19.5" text-anchor="end" font-weight="normal" fill="#3a3a3a" >1.0</text>
<line x1="410.3" y1="781.9" x2="414.3" y2="781.9" stroke="#555555" stroke-width="1.6" />
<line x1="406.3" y1="758.2" x2="414.3" y2="758.2" stroke="#555555" stroke-width="1.6" />
<text x="398.8" y="762.9" font-size="19.5" text-anchor="end" font-weight="normal" fill="#3a3a3a" >1.5</text>
<line x1="410.3" y1="734.6" x2="414.3" y2="734.6" stroke="#555555" stroke-width="1.6" />
<line x1="406.3" y1="711.0" x2="414.3" y2="711.0" stroke="#555555" stroke-width="1.6" />
<text x="398.8" y="715.6" font-size="19.5" text-anchor="end" font-weight="normal" fill="#3a3a3a" >2.0</text>
<line x1="410.3" y1="687.4" x2="414.3" y2="687.4" stroke="#555555" stroke-width="1.6" />
<line x1="406.3" y1="663.8" x2="414.3" y2="663.8" stroke="#555555" stroke-width="1.6" />
<text x="398.8" y="668.4" font-size="19.5" text-anchor="end" font-weight="normal" fill="#3a3a3a" >2.5</text>
<line x1="410.3" y1="640.1" x2="414.3" y2="640.1" stroke="#555555" stroke-width="1.6" />
<line x1="406.3" y1="616.5" x2="414.3" y2="616.5" stroke="#555555" stroke-width="1.6" />
<text x="398.8" y="621.1" font-size="19.5" text-anchor="end" font-weight="normal" fill="#3a3a3a" >3.0</text>
<line x1="410.3" y1="592.9" x2="414.3" y2="592.9" stroke="#555555" stroke-width="1.6" />
<line x1="406.3" y1="569.2" x2="414.3" y2="569.2" stroke="#555555" stroke-width="1.6" />
<text x="398.8" y="573.9" font-size="19.5" text-anchor="end" font-weight="normal" fill="#3a3a3a" >3.5</text>
<line x1="410.3" y1="545.6" x2="414.3" y2="545.6" stroke="#555555" stroke-width="1.6" />
<line x1="406.3" y1="522.0" x2="414.3" y2="522.0" stroke="#555555" stroke-width="1.6" />
<text x="398.8" y="526.6" font-size="19.5" text-anchor="end" font-weight="normal" fill="#3a3a3a" >4.0</text>
<line x1="414.3" y1="946.2" x2="414.3" y2="953.7" stroke="#555555" stroke-width="1.6" />
<text x="412.8" y="974.3" font-size="19" text-anchor="middle" font-weight="normal" fill="#3a3a3a" >0</text>
<line x1="452.9" y1="946.2" x2="452.9" y2="949.7" stroke="#555555" stroke-width="1.6" />
<line x1="491.5" y1="946.2" x2="491.5" y2="953.7" stroke="#555555" stroke-width="1.6" />
<text x="490.0" y="974.3" font-size="19" text-anchor="middle" font-weight="normal" fill="#3a3a3a" >2</text>
<line x1="530.1" y1="946.2" x2="530.1" y2="949.7" stroke="#555555" stroke-width="1.6" />
<line x1="568.7" y1="946.2" x2="568.7" y2="953.7" stroke="#555555" stroke-width="1.6" />
<text x="567.2" y="974.3" font-size="19" text-anchor="middle" font-weight="normal" fill="#3a3a3a" >4</text>
<line x1="607.3" y1="946.2" x2="607.3" y2="949.7" stroke="#555555" stroke-width="1.6" />
<line x1="645.9" y1="946.2" x2="645.9" y2="953.7" stroke="#555555" stroke-width="1.6" />
<text x="644.4" y="974.3" font-size="19" text-anchor="middle" font-weight="normal" fill="#3a3a3a" >6</text>
<line x1="684.5" y1="946.2" x2="684.5" y2="949.7" stroke="#555555" stroke-width="1.6" />
<line x1="723.1" y1="946.2" x2="723.1" y2="953.7" stroke="#555555" stroke-width="1.6" />
<text x="721.6" y="974.3" font-size="19" text-anchor="middle" font-weight="normal" fill="#3a3a3a" >8</text>
<line x1="761.7" y1="946.2" x2="761.7" y2="949.7" stroke="#555555" stroke-width="1.6" />
<line x1="800.3" y1="946.2" x2="800.3" y2="953.7" stroke="#555555" stroke-width="1.6" />
<text x="798.8" y="974.3" font-size="19" text-anchor="middle" font-weight="normal" fill="#3a3a3a" >10</text>
<line x1="838.9" y1="946.2" x2="838.9" y2="949.7" stroke="#555555" stroke-width="1.6" />
<line x1="877.5" y1="946.2" x2="877.5" y2="953.7" stroke="#555555" stroke-width="1.6" />
<text x="876.0" y="974.3" font-size="19" text-anchor="middle" font-weight="normal" fill="#3a3a3a" >12</text>
<line x1="916.1" y1="946.2" x2="916.1" y2="949.7" stroke="#555555" stroke-width="1.6" />
<line x1="954.7" y1="946.2" x2="954.7" y2="953.7" stroke="#555555" stroke-width="1.6" />
<text x="953.2" y="974.3" font-size="19" text-anchor="middle" font-weight="normal" fill="#3a3a3a" >14</text>
<text transform="translate(352.8,829.0) rotate(-90)" font-size="19.5" font-weight="bold" fill="#2a2a2a" text-anchor="start" letter-spacing="0.65">Current Density / A<tspan dx="2">m</tspan><tspan dy="-10" font-size="12.5">-2</tspan></text>
<text x="683.8" y="1001.8" font-size="19.2" text-anchor="middle" font-weight="bold" fill="#2a2a2a" letter-spacing="0.7">Distance / mm</text>
<text x="909.5" y="569.0" font-size="28.5" text-anchor="start" font-weight="normal" fill="#2a2a2a" letter-spacing="4.0">c)</text>
<line x1="845.3" y1="520.6" x2="845.3" y2="955.0" stroke="#151515" stroke-width="3.2" stroke-dasharray="11 9.2" stroke-dashoffset="0"/>
<text transform="translate(826.8,643.8) rotate(-90) scale(1,1.050)" font-size="27.8" font-weight="bold" fill="#2a2a2a" text-anchor="start" >MgRP</text>
<text transform="translate(859.7,542.4) rotate(90) scale(1,1.100)" font-size="27.3" font-weight="bold" fill="#2a2a2a" text-anchor="start" >2024-T351</text>
<line x1="796.9" y1="865.9" x2="945.6" y2="865.9" stroke="#151515" stroke-width="3.2" stroke-dasharray="10.20 10.00" stroke-dashoffset="14.30"/>
<line x1="796.9" y1="865.9" x2="796.9" y2="920.6" stroke="#151515" stroke-width="3.2" stroke-dasharray="11.50 8.70" stroke-dashoffset="18.00"/>
<line x1="796.9" y1="920.6" x2="945.6" y2="920.6" stroke="#151515" stroke-width="3.2" stroke-dasharray="10.65 9.35" stroke-dashoffset="8.15"/>
<line x1="945.6" y1="865.9" x2="945.6" y2="920.6" stroke="#151515" stroke-width="3.2" stroke-dasharray="10.60 9.70" stroke-dashoffset="1.50"/>
<line x1="797.0" y1="866.0" x2="689.3" y2="710.0" stroke="#333" stroke-width="1.6" />
<polygon points="684.5,703.0 694.5,708.9 686.4,714.4" fill="#1a1a1a"/>
<line x1="722.7" y1="714.2" x2="765.8" y2="714.2" stroke="#555555" stroke-width="2.8" />
<line x1="722.7" y1="740.6" x2="762" y2="740.6" stroke="#f04848" stroke-width="2.6" stroke-dasharray="7.2 8.7" opacity="0.9"/>
<rect x="721.9" y="764.1" width="2.4" height="2.4" fill="#7070f0" opacity="0.7"/>
<rect x="740.7" y="764.1" width="2.4" height="2.4" fill="#7070f0" opacity="0.7"/>
<rect x="751.4" y="764.1" width="2.4" height="2.4" fill="#7070f0" opacity="0.7"/>
<text x="771.5" y="721.0" font-size="18.5" text-anchor="start" font-weight="normal" fill="#2a2a2a" letter-spacing="1.3">4 h</text>
<text x="773.5" y="745.8" font-size="18.5" text-anchor="start" font-weight="normal" fill="#2a2a2a" letter-spacing="1.3">14 h</text>
<text x="772.0" y="771.5" font-size="18.5" text-anchor="start" font-weight="normal" fill="#2a2a2a" letter-spacing="1.3">24 h</text>
<polyline points="416.0,888.2 419.8,893.5 425.4,889.9 429.2,891.2 435.0,890.1 440.7,897.3 444.6,895.5 449.5,893.8 456.0,889.3 459.5,901.2 464.2,890.8 468.7,893.1 475.1,890.9 479.2,896.2 484.4,901.4 490.4,893.0 494.5,899.7 501.0,888.4 506.7,900.2 512.1,891.1 518.0,898.2 522.1,897.0 526.3,888.6 530.8,892.7 535.5,897.1 541.5,901.5 547.9,901.9 553.8,892.3 557.8,896.7 562.9,897.4 566.7,890.7 573.0,896.4 578.6,889.3 583.3,900.7 588.7,901.9 592.8,894.4 598.7,894.2 604.6,895.9 608.4,889.4 614.9,889.7 619.0,892.7 624.6,900.0 629.5,895.0 635.4,891.9 640.0,896.6 645.4,888.5 649.2,889.9 654.9,897.7 661.3,898.7 665.6,898.7 672.1,892.9 675.6,893.3 679.9,890.5 683.6,889.7 689.7,888.7 695.0,890.9 699.1,899.5 703.5,890.6 708.4,897.7 713.4,900.0 718.1,895.3 723.8,894.5 729.4,894.5 733.3,889.7 739.2,898.4 745.5,897.7 750.8,890.3 756.8,889.7 761.6,890.0 766.2,892.3 771.0,898.0 776.1,891.4 782.0,898.3 788.0,888.5 793.3,900.5 797.6,890.8 803.5,893.1 808.2,899.4 812.9,890.8 817.0,892.8 822.6,893.2 828.4,888.9 832.7,896.7 837.6,895.0 843.9,891.9 848.0,888.5 852.9,892.2 857.8,888.1 861.3,893.3 866.0,905.0 871.4,916.8 876.0,900.0 881.0,870.0 886.0,848.0 890.0,838.0 893.7,834.0 897.0,845.0 900.0,870.0 904.0,880.0 910.0,895.0 916.0,906.0 922.0,896.0 928.0,890.0 934.0,888.0" fill="none" stroke="#f04848" stroke-width="2.4" stroke-dasharray="7 9" opacity="0.85"/>
<rect x="415.9" y="911.4" width="2.2" height="2.2" fill="#7878f0" opacity="0.6"/>
<rect x="419.7" y="855.9" width="2.2" height="2.2" fill="#7878f0" opacity="0.6"/>
<rect x="424.3" y="917.1" width="2.2" height="2.2" fill="#7878f0" opacity="0.6"/>
<rect x="427.8" y="914.9" width="2.2" height="2.2" fill="#7878f0" opacity="0.6"/>
<rect x="433.4" y="906.0" width="2.2" height="2.2" fill="#7878f0" opacity="0.6"/>
<rect x="437.1" y="869.7" width="2.2" height="2.2" fill="#7878f0" opacity="0.6"/>
<rect x="442.7" y="893.3" width="2.2" height="2.2" fill="#7878f0" opacity="0.6"/>
<rect x="446.0" y="915.6" width="2.2" height="2.2" fill="#7878f0" opacity="0.6"/>
<rect x="449.7" y="888.5" width="2.2" height="2.2" fill="#7878f0" opacity="0.6"/>
<rect x="453.4" y="913.7" width="2.2" height="2.2" fill="#7878f0" opacity="0.6"/>
<rect x="458.7" y="903.7" width="2.2" height="2.2" fill="#7878f0" opacity="0.6"/>
<rect x="464.7" y="919.8" width="2.2" height="2.2" fill="#7878f0" opacity="0.6"/>
<rect x="470.4" y="896.1" width="2.2" height="2.2" fill="#7878f0" opacity="0.6"/>
<rect x="473.7" y="915.7" width="2.2" height="2.2" fill="#7878f0" opacity="0.6"/>
<rect x="477.1" y="902.4" width="2.2" height="2.2" fill="#7878f0" opacity="0.6"/>
<rect x="481.9" y="905.6" width="2.2" height="2.2" fill="#7878f0" opacity="0.6"/>
<rect x="485.1" y="886.0" width="2.2" height="2.2" fill="#7878f0" opacity="0.6"/>
<rect x="490.5" y="870.5" width="2.2" height="2.2" fill="#7878f0" opacity="0.6"/>
<rect x="494.2" y="901.7" width="2.2" height="2.2" fill="#7878f0" opacity="0.6"/>
<rect x="499.6" y="905.8" width="2.2" height="2.2" fill="#7878f0" opacity="0.6"/>
<rect x="502.9" y="887.7" width="2.2" height="2.2" fill="#7878f0" opacity="0.6"/>
<rect x="507.0" y="856.0" width="2.2" height="2.2" fill="#7878f0" opacity="0.6"/>
<rect x="513.1" y="876.0" width="2.2" height="2.2" fill="#7878f0" opacity="0.6"/>
<rect x="516.4" y="900.7" width="2.2" height="2.2" fill="#7878f0" opacity="0.6"/>
<rect x="519.7" y="888.7" width="2.2" height="2.2" fill="#7878f0" opacity="0.6"/>
<rect x="525.4" y="884.2" width="2.2" height="2.2" fill="#7878f0" opacity="0.6"/>
<rect x="530.7" y="906.1" width="2.2" height="2.2" fill="#7878f0" opacity="0.6"/>
<rect x="535.3" y="920.0" width="2.2" height="2.2" fill="#7878f0" opacity="0.6"/>
<rect x="538.4" y="888.7" width="2.2" height="2.2" fill="#7878f0" opacity="0.6"/>
<rect x="544.3" y="894.7" width="2.2" height="2.2" fill="#7878f0" opacity="0.6"/>
<rect x="548.8" y="856.6" width="2.2" height="2.2" fill="#7878f0" opacity="0.6"/>
<rect x="552.7" y="906.6" width="2.2" height="2.2" fill="#7878f0" opacity="0.6"/>
<rect x="556.3" y="906.1" width="2.2" height="2.2" fill="#7878f0" opacity="0.6"/>
<rect x="560.1" y="912.5" width="2.2" height="2.2" fill="#7878f0" opacity="0.6"/>
<rect x="566.2" y="916.9" width="2.2" height="2.2" fill="#7878f0" opacity="0.6"/>
<rect x="570.7" y="903.7" width="2.2" height="2.2" fill="#7878f0" opacity="0.6"/>
<rect x="574.1" y="910.8" width="2.2" height="2.2" fill="#7878f0" opacity="0.6"/>
<rect x="578.1" y="890.7" width="2.2" height="2.2" fill="#7878f0" opacity="0.6"/>
<rect x="583.0" y="887.3" width="2.2" height="2.2" fill="#7878f0" opacity="0.6"/>
<rect x="586.5" y="904.5" width="2.2" height="2.2" fill="#7878f0" opacity="0.6"/>
<rect x="591.1" y="920.5" width="2.2" height="2.2" fill="#7878f0" opacity="0.6"/>
<rect x="594.7" y="865.4" width="2.2" height="2.2" fill="#7878f0" opacity="0.6"/>
<rect x="599.2" y="900.8" width="2.2" height="2.2" fill="#7878f0" opacity="0.6"/>
<rect x="604.6" y="903.5" width="2.2" height="2.2" fill="#7878f0" opacity="0.6"/>
<rect x="609.0" y="904.2" width="2.2" height="2.2" fill="#7878f0" opacity="0.6"/>
<rect x="614.7" y="863.2" width="2.2" height="2.2" fill="#7878f0" opacity="0.6"/>
<rect x="620.5" y="924.3" width="2.2" height="2.2" fill="#7878f0" opacity="0.6"/>
<rect x="625.9" y="868.6" width="2.2" height="2.2" fill="#7878f0" opacity="0.6"/>
<rect x="631.2" y="915.4" width="2.2" height="2.2" fill="#7878f0" opacity="0.6"/>
<rect x="635.9" y="904.3" width="2.2" height="2.2" fill="#7878f0" opacity="0.6"/>
<rect x="640.1" y="916.1" width="2.2" height="2.2" fill="#7878f0" opacity="0.6"/>
<rect x="645.3" y="888.5" width="2.2" height="2.2" fill="#7878f0" opacity="0.6"/>
<rect x="650.4" y="894.1" width="2.2" height="2.2" fill="#7878f0" opacity="0.6"/>
<rect x="655.9" y="905.1" width="2.2" height="2.2" fill="#7878f0" opacity="0.6"/>
<rect x="660.7" y="918.4" width="2.2" height="2.2" fill="#7878f0" opacity="0.6"/>
<rect x="664.0" y="901.3" width="2.2" height="2.2" fill="#7878f0" opacity="0.6"/>
<rect x="668.9" y="921.4" width="2.2" height="2.2" fill="#7878f0" opacity="0.6"/>
<rect x="672.8" y="906.3" width="2.2" height="2.2" fill="#7878f0" opacity="0.6"/>
<rect x="676.1" y="917.4" width="2.2" height="2.2" fill="#7878f0" opacity="0.6"/>
<rect x="682.0" y="900.9" width="2.2" height="2.2" fill="#7878f0" opacity="0.6"/>
<rect x="685.4" y="899.3" width="2.2" height="2.2" fill="#7878f0" opacity="0.6"/>
<rect x="691.0" y="901.9" width="2.2" height="2.2" fill="#7878f0" opacity="0.6"/>
<rect x="694.6" y="906.5" width="2.2" height="2.2" fill="#7878f0" opacity="0.6"/>
<rect x="700.2" y="887.0" width="2.2" height="2.2" fill="#7878f0" opacity="0.6"/>
<rect x="703.4" y="905.7" width="2.2" height="2.2" fill="#7878f0" opacity="0.6"/>
<rect x="708.9" y="880.5" width="2.2" height="2.2" fill="#7878f0" opacity="0.6"/>
<rect x="714.8" y="921.4" width="2.2" height="2.2" fill="#7878f0" opacity="0.6"/>
<rect x="719.5" y="906.3" width="2.2" height="2.2" fill="#7878f0" opacity="0.6"/>
<rect x="724.3" y="865.5" width="2.2" height="2.2" fill="#7878f0" opacity="0.6"/>
<rect x="729.5" y="896.5" width="2.2" height="2.2" fill="#7878f0" opacity="0.6"/>
<rect x="734.2" y="911.3" width="2.2" height="2.2" fill="#7878f0" opacity="0.6"/>
<rect x="738.7" y="898.4" width="2.2" height="2.2" fill="#7878f0" opacity="0.6"/>
<rect x="744.7" y="900.1" width="2.2" height="2.2" fill="#7878f0" opacity="0.6"/>
<rect x="749.4" y="900.8" width="2.2" height="2.2" fill="#7878f0" opacity="0.6"/>
<rect x="753.2" y="924.8" width="2.2" height="2.2" fill="#7878f0" opacity="0.6"/>
<rect x="757.2" y="911.7" width="2.2" height="2.2" fill="#7878f0" opacity="0.6"/>
<rect x="762.2" y="896.9" width="2.2" height="2.2" fill="#7878f0" opacity="0.6"/>
<rect x="767.7" y="894.0" width="2.2" height="2.2" fill="#7878f0" opacity="0.6"/>
<rect x="771.4" y="900.3" width="2.2" height="2.2" fill="#7878f0" opacity="0.6"/>
<rect x="777.0" y="913.8" width="2.2" height="2.2" fill="#7878f0" opacity="0.6"/>
<rect x="781.0" y="905.7" width="2.2" height="2.2" fill="#7878f0" opacity="0.6"/>
<rect x="785.6" y="910.5" width="2.2" height="2.2" fill="#7878f0" opacity="0.6"/>
<rect x="789.2" y="892.8" width="2.2" height="2.2" fill="#7878f0" opacity="0.6"/>
<rect x="793.6" y="917.2" width="2.2" height="2.2" fill="#7878f0" opacity="0.6"/>
<rect x="798.7" y="880.0" width="2.2" height="2.2" fill="#7878f0" opacity="0.6"/>
<rect x="803.9" y="870.9" width="2.2" height="2.2" fill="#7878f0" opacity="0.6"/>
<rect x="808.4" y="883.2" width="2.2" height="2.2" fill="#7878f0" opacity="0.6"/>
<rect x="812.7" y="866.9" width="2.2" height="2.2" fill="#7878f0" opacity="0.6"/>
<rect x="818.0" y="898.8" width="2.2" height="2.2" fill="#7878f0" opacity="0.6"/>
<rect x="824.0" y="904.3" width="2.2" height="2.2" fill="#7878f0" opacity="0.6"/>
<rect x="829.1" y="888.4" width="2.2" height="2.2" fill="#7878f0" opacity="0.6"/>
<rect x="833.2" y="874.9" width="2.2" height="2.2" fill="#7878f0" opacity="0.6"/>
<rect x="838.1" y="864.2" width="2.2" height="2.2" fill="#7878f0" opacity="0.6"/>
<rect x="841.6" y="905.1" width="2.2" height="2.2" fill="#7878f0" opacity="0.6"/>
<rect x="845.2" y="892.8" width="2.2" height="2.2" fill="#7878f0" opacity="0.6"/>
<rect x="849.4" y="905.0" width="2.2" height="2.2" fill="#7878f0" opacity="0.6"/>
<rect x="853.3" y="908.4" width="2.2" height="2.2" fill="#7878f0" opacity="0.6"/>
<rect x="857.6" y="898.7" width="2.2" height="2.2" fill="#7878f0" opacity="0.6"/>
<rect x="862.3" y="890.9" width="2.2" height="2.2" fill="#7878f0" opacity="0.6"/>
<rect x="867.3" y="905.6" width="2.2" height="2.2" fill="#7878f0" opacity="0.6"/>
<rect x="870.9" y="913.9" width="2.2" height="2.2" fill="#7878f0" opacity="0.6"/>
<rect x="876.9" y="903.9" width="2.2" height="2.2" fill="#7878f0" opacity="0.6"/>
<rect x="882.9" y="878.9" width="2.2" height="2.2" fill="#7878f0" opacity="0.6"/>
<rect x="888.9" y="858.9" width="2.2" height="2.2" fill="#7878f0" opacity="0.6"/>
<rect x="893.9" y="838.9" width="2.2" height="2.2" fill="#7878f0" opacity="0.6"/>
<rect x="898.9" y="813.9" width="2.2" height="2.2" fill="#7878f0" opacity="0.6"/>
<rect x="903.8" y="794.6" width="2.2" height="2.2" fill="#7878f0" opacity="0.6"/>
<rect x="906.9" y="803.9" width="2.2" height="2.2" fill="#7878f0" opacity="0.6"/>
<rect x="910.9" y="818.9" width="2.2" height="2.2" fill="#7878f0" opacity="0.6"/>
<rect x="913.9" y="833.9" width="2.2" height="2.2" fill="#7878f0" opacity="0.6"/>
<rect x="916.9" y="848.9" width="2.2" height="2.2" fill="#7878f0" opacity="0.6"/>
<rect x="920.9" y="863.9" width="2.2" height="2.2" fill="#7878f0" opacity="0.6"/>
<rect x="925.9" y="873.9" width="2.2" height="2.2" fill="#7878f0" opacity="0.6"/>
<rect x="931.9" y="878.9" width="2.2" height="2.2" fill="#7878f0" opacity="0.6"/>
<rect x="936.9" y="883.9" width="2.2" height="2.2" fill="#7878f0" opacity="0.6"/>
<polyline points="415.8,898.8 419.9,892.3 424.8,903.7 428.9,898.0 437.8,906.2 444.4,902.9 451.7,897.2 456.6,895.6 459.9,876.0 464.0,884.1 468.9,901.3 471.3,903.7 477.1,899.6 485.2,892.3 489.3,871.0 494.2,854.7 497.5,864.5 498.4,895.1 502.3,899.6 505.5,893.8 509.4,886.0 511.4,858.8 513.9,829.1 516.5,861.4 517.8,896.4 523.7,902.2 528.8,893.8 534.0,895.1 536.6,861.4 539.2,871.8 541.8,893.8 552.1,904.8 560.6,897.7 567.7,861.4 570.9,874.4 572.2,904.1 575.4,897.7 580.6,897.7 583.2,889.9 587.1,888.6 594.9,880.8 598.7,887.3 600.7,865.3 603.3,848.5 607.2,861.4 610.4,884.3 615.5,839.0 620.7,853.2 625.9,749.6 628.5,798.8 633.7,857.1 636.3,767.7 638.3,701.7 641.5,741.8 649.2,866.2 655.7,889.5 660.9,868.8 666.1,921.9 672.5,902.4 682.9,871.3 693.3,894.7 701.0,857.1 707.5,897.3 711.4,879.1 715.3,894.7 717.6,881.1 722.3,900.0 726.1,903.8 729.9,881.1 732.2,835.7 734.4,783.7 736.8,835.7 739.3,883.0 743.1,905.7 745.9,909.5 749.7,896.2 755.4,898.1 760.1,890.6 765.8,904.8 772.4,890.6 776.2,886.8 781.9,896.2 786.6,901.9 793.3,896.2 798.9,890.6 804.6,900.0 810.3,890.6 816.0,903.8 823.5,896.2 831.1,898.1 836.4,892.9 844.3,885.0 849.1,899.3 855.5,891.3 861.9,888.1 868.2,891.3 874.6,853.1 881.0,773.4 885.8,693.7 889.9,644.3 893.7,693.7 898.5,773.4 904.9,853.1 914.4,889.7 919.2,894.5 925.6,884.9 932.0,884.9 936.8,883.3" fill="none" stroke="#525252" stroke-width="1.85" stroke-linejoin="round" />
<rect x="440" y="530" width="265" height="216" fill="#fff" opacity="0"/>
<line x1="458.0" y1="535.0" x2="458.0" y2="743.0" stroke="#333" stroke-width="1.8" />
<line x1="454.0" y1="743.0" x2="699.7" y2="743.0" stroke="#333" stroke-width="1.7" />
<line x1="458.0" y1="638.5" x2="700.0" y2="638.5" stroke="#333" stroke-width="1.7" />
<line x1="455.0" y1="742.1" x2="458.0" y2="742.1" stroke="#333" stroke-width="1.3" />
<line x1="456.0" y1="716.2" x2="458.0" y2="716.2" stroke="#333" stroke-width="1.3" />
<line x1="455.0" y1="690.3" x2="458.0" y2="690.3" stroke="#333" stroke-width="1.3" />
<line x1="456.0" y1="664.4" x2="458.0" y2="664.4" stroke="#333" stroke-width="1.3" />
<line x1="455.0" y1="638.5" x2="458.0" y2="638.5" stroke="#333" stroke-width="1.3" />
<line x1="456.0" y1="612.6" x2="458.0" y2="612.6" stroke="#333" stroke-width="1.3" />
<line x1="455.0" y1="586.7" x2="458.0" y2="586.7" stroke="#333" stroke-width="1.3" />
<line x1="456.0" y1="560.8" x2="458.0" y2="560.8" stroke="#333" stroke-width="1.3" />
<line x1="455.0" y1="534.9" x2="458.0" y2="534.9" stroke="#333" stroke-width="1.3" />
<text x="448.5" y="536.7" font-size="11" text-anchor="end" font-weight="normal" fill="#383838" letter-spacing="0.9">0.4</text>
<text x="448.5" y="588.5" font-size="11" text-anchor="end" font-weight="normal" fill="#383838" letter-spacing="0.9">0.2</text>
<text x="448.5" y="640.3" font-size="11" text-anchor="end" font-weight="normal" fill="#383838" letter-spacing="0.9">0.0</text>
<text x="448.5" y="692.1" font-size="11" text-anchor="end" font-weight="normal" fill="#383838" letter-spacing="0.9">-0.2</text>
<text x="448.5" y="743.9" font-size="11" text-anchor="end" font-weight="normal" fill="#383838" letter-spacing="0.9">-0.4</text>
<line x1="487.9" y1="743.0" x2="487.9" y2="746.0" stroke="#333" stroke-width="1.3" />
<line x1="548.3" y1="743.0" x2="548.3" y2="746.0" stroke="#333" stroke-width="1.3" />
<line x1="609.2" y1="743.0" x2="609.2" y2="746.0" stroke="#333" stroke-width="1.3" />
<line x1="670.1" y1="743.0" x2="670.1" y2="746.0" stroke="#333" stroke-width="1.3" />
<line x1="523.6" y1="524.0" x2="523.6" y2="738.0" stroke="#151515" stroke-width="3.2" stroke-dasharray="11 9.2" stroke-dashoffset="0"/>
<clipPath id="cc"><rect x="456" y="534" width="246" height="210"/></clipPath>
<g clip-path="url(#cc)">
<polyline points="458.8,657.5 463.1,620.0 468.1,630.0 474.4,651.2 480.0,640.0 487.5,665.0 492.5,636.2 498.8,673.8 503.8,646.2 510.6,626.2 516.2,648.8 522.5,640.0 529.4,650.0 536.2,631.2 541.2,651.2 547.5,641.2 553.8,678.8 562.5,632.5 567.5,635.0 578.8,653.8 585.0,640.0 591.2,647.5 597.0,655.9 603.1,683.8 610.9,629.7 616.2,587.8 624.0,535.5 625.0,500.0 640.0,500.0 640.6,535.5 645.8,563.4 651.1,631.5 659.8,607.0 669.4,615.7 676.4,607.9 682.5,617.5 687.7,647.2 700.0,669.9" fill="none" stroke="#e2465a" stroke-width="1.8" stroke-linejoin="round" />
<polyline points="458.1,618.8 460.6,652.5 463.1,687.5 465.6,675.0 466.2,637.5 468.8,600.0 475.0,593.8 480.0,585.6 487.5,598.8 493.8,607.5 497.5,635.0 500.6,647.5 505.0,647.5 512.5,666.2 518.1,681.2 522.5,655.0 527.5,637.5 532.5,611.2 535.6,595.0 541.9,604.4 548.1,595.6 555.0,605.0 560.0,615.0 563.1,631.2 565.6,671.2 572.5,657.5 578.8,641.2 583.8,645.0 590.0,629.7 597.0,617.5 603.1,600.0 607.5,633.2 610.9,661.1 615.3,678.6 621.4,633.2 626.6,591.3 633.6,572.1 637.1,535.5 638.0,500.0 675.0,500.0 675.5,535.5 684.2,591.3 688.6,626.2 693.0,559.9 694.7,539.0 697.3,559.9 699.1,591.3" fill="none" stroke="#5448e2" stroke-width="1.8" stroke-linejoin="round" />
<polyline points="458.8,637.5 463.8,653.8 468.8,648.8 474.4,632.5 478.8,637.5 487.5,610.0 492.5,635.0 498.1,656.2 501.2,631.2 505.0,615.0 508.1,631.2 511.2,653.8 516.2,647.5 521.2,640.0 527.5,638.8 540.0,637.5 548.8,621.2 553.8,605.0 560.0,616.2 565.0,633.8 571.2,636.2 578.8,605.0 590.0,621.2 597.0,591.3 603.1,535.5 605.0,500.0 652.0,500.0 653.7,535.5 659.8,559.9 665.0,603.5 675.5,626.2 684.2,600.0 691.2,600.0 700.0,604.4" fill="none" stroke="#333" stroke-width="1.6" stroke-linejoin="round" />
</g>
</g>
</svg>
</body></html>
